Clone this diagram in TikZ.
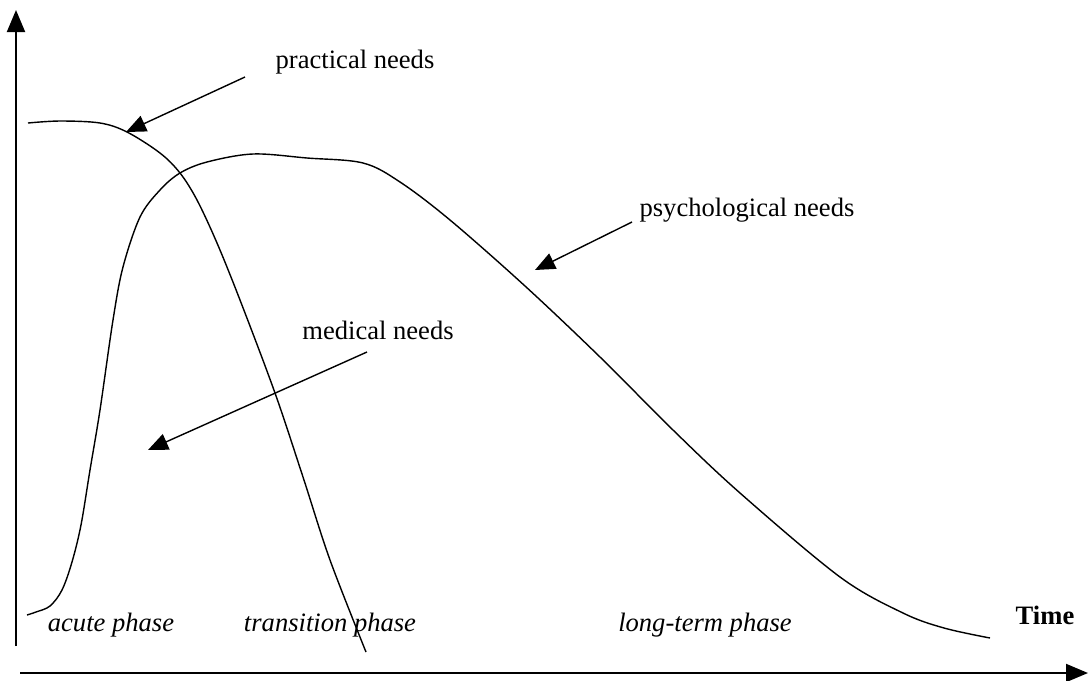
\documentclass[tikz,border=0pt]{standalone}
\usepackage{fontspec}
\setmainfont{Liberation Serif}
\usetikzlibrary{arrows.meta}

\tikzset{
	label/.style={font=\fontsize{18.9}{22}\selectfont, inner sep=0pt},
	phase/.style={label, font=\fontsize{18.9}{22}\selectfont\itshape},
	pointer/.style={line width=1pt, -{Triangle[length=0.5cm, width=0.42cm]}},
	axis/.style={line width=1.4pt, -{Triangle[length=0.55cm, width=0.45cm]}},
	need/.style={line width=1pt}
}

\begin{document}
\begin{tikzpicture}[x=0.025cm, y=-0.025cm]
	\useasboundingbox (0,0) rectangle (1088,680);
	% axes
	\coordinate (ybot) at (16,646);
	\coordinate (ytop) at (16,10);
	\coordinate (xleft) at (20,673);
	\coordinate (xright) at (1088,673);
	\draw [axis] (ybot) -- (ytop);
	\draw [axis] (xleft) -- (xright);
	% curves
	\draw [need] plot [smooth, tension=0.55] coordinates {(28,123) (60,121) (100,123) (127,132) (160,153) (180,173) (197,200) (217,243) (240,300) (275,393) (303,477) (330,560) (366,652)};
	\draw [need] plot [smooth, tension=0.55] coordinates {(27,615) (36,612) (50,606) (62,590) (72,562) (81,525) (90,470) (100,410) (113,320) (123,267) (140,217) (160,190) (180,173) (207,162) (253,154) (307,158) (363,163) (400,182) (450,220) (525,286) (600,357) (673,430) (740,493) (840,577) (903,613) (944,628) (990,638)};
	% labels
	\node [label] (prac) at (355,62) {practical needs};
	\node [label] (psych) at (747,210) {psychological needs};
	\node [label] (med) at (378,330) {medical needs};
	\node [label, font=\fontsize{18.9}{22}\selectfont\bfseries] (time) at (1045,615) {Time};
	\node [phase] (acute) at (111,625) {acute phase};
	\node [phase] (trans) at (330,625) {transition phase};
	\node [phase] (long) at (705,625) {long-term phase};
	% pointers
	\coordinate (prac-from) at (245,77);
	\coordinate (prac-to) at (126,132);
	\coordinate (psych-from) at (632,222);
	\coordinate (psych-to) at (535,270);
	\coordinate (med-from) at (367,352);
	\coordinate (med-to) at (148,450);
	\draw [pointer] (prac-from) -- (prac-to);
	\draw [pointer] (psych-from) -- (psych-to);
	\draw [pointer] (med-from) -- (med-to);
\end{tikzpicture}
\end{document}
